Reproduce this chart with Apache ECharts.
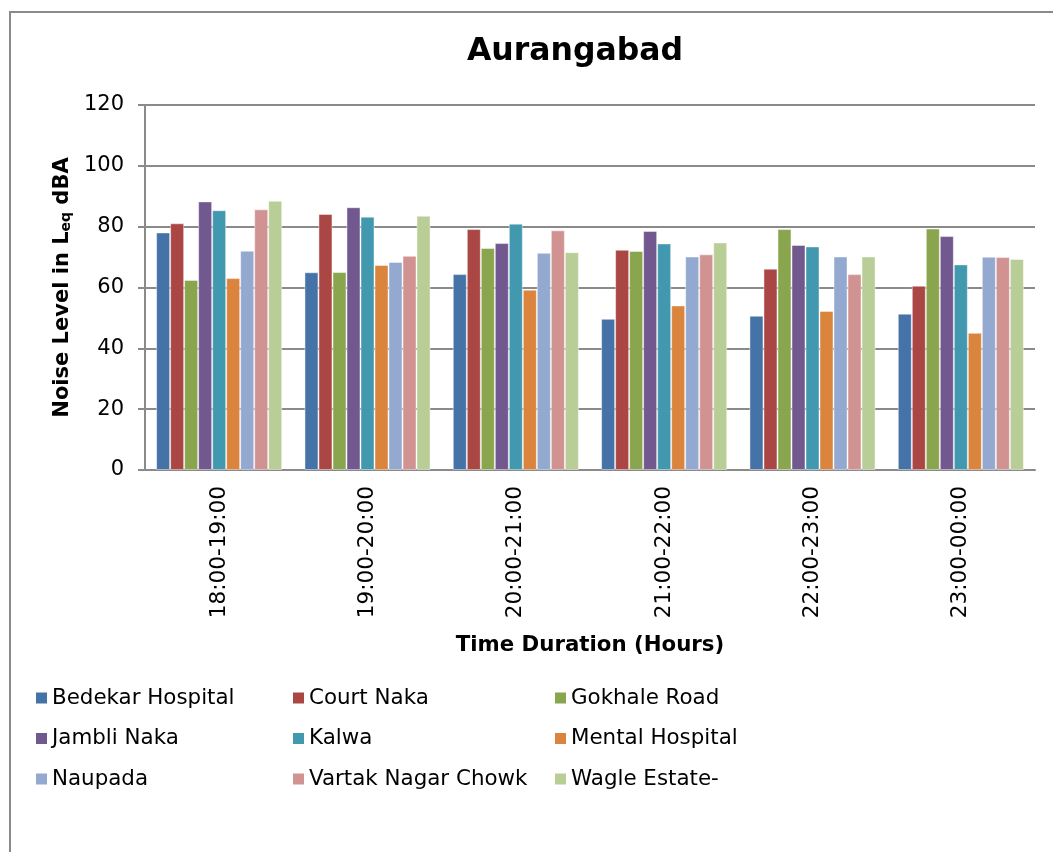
<!DOCTYPE html>
<html>
<head>
<meta charset="utf-8">
<title>Aurangabad</title>
<script src="https://cdn.jsdelivr.net/npm/echarts@6/dist/echarts.min.js"></script>
<style>
  html, body { margin: 0; padding: 0; background: #fff; }
  #chart { width: 1053px; height: 852px; }
</style>
</head>
<body>
<div id="chart"></div>
<script>
// Time slots on the category axis
const timeSlots = ['18:00-19:00', '19:00-20:00', '20:00-21:00', '21:00-22:00', '22:00-23:00', '23:00-00:00'];

// Noise level (Leq dBA) per location, one value per time slot
const bedekarHospital  = [78.1, 65.0, 64.4, 49.7, 50.7, 51.4];
const courtNaka        = [81.1, 84.2, 79.2, 72.4, 66.2, 60.6];
const gokhaleRoad      = [62.5, 65.1, 73.0, 72.0, 79.2, 79.4];
const jambliNaka       = [88.3, 86.4, 74.6, 78.6, 74.0, 76.9];
const kalwa            = [85.4, 83.3, 81.0, 74.5, 73.5, 67.6];
const mentalHospital   = [63.1, 67.4, 59.3, 54.1, 52.3, 45.1];
const naupada          = [72.1, 68.4, 71.4, 70.2, 70.2, 70.1];
const vartakNagarChowk = [85.7, 70.4, 78.8, 70.9, 64.4, 70.0];
const wagleEstate      = [88.5, 83.6, 71.6, 74.8, 70.2, 69.4];

const locationNames = ['Bedekar Hospital', 'Court Naka', 'Gokhale Road', 'Jambli Naka', 'Kalwa',
  'Mental Hospital', 'Naupada', 'Vartak Nagar Chowk', 'Wagle Estate-'];
const locationValues = [bedekarHospital, courtNaka, gokhaleRoad, jambliNaka, kalwa,
  mentalHospital, naupada, vartakNagarChowk, wagleEstate];
const palette = ['#4572A7', '#AA4643', '#89A54E', '#71588F', '#4198AF',
  '#DB843D', '#93A9CF', '#D19392', '#B9CD96'];

// Y axis ticks
const yMin = 0, yMax = 120, yStep = 20;

const FONT = 'DejaVu Sans, Verdana, sans-serif';
const GRID_COLOR = '#8a8a8a';

const chart = echarts.init(document.getElementById('chart'), null, { renderer: 'canvas' });

// One legend per column, three rows each
const legendColumn = (names, left) => ({
  orient: 'vertical',
  left: left,
  top: 687.5,
  padding: 0,
  itemWidth: 11,
  itemHeight: 11,
  itemGap: 19.5,
  icon: 'rect',
  data: names,
  itemStyle: { borderWidth: 0 },
  textStyle: { fontFamily: FONT, fontSize: 21.4, color: '#000', lineHeight: 21 },
  selectedMode: false
});

chart.setOption({
  animation: false,
  backgroundColor: '#fff',
  color: palette,
  grid: { left: 145, right: 18, top: 105, bottom: 382, containLabel: false },
  legend: [
    legendColumn([locationNames[0], locationNames[3], locationNames[6]], 36),
    legendColumn([locationNames[1], locationNames[4], locationNames[7]], 293),
    legendColumn([locationNames[2], locationNames[5], locationNames[8]], 555)
  ],
  xAxis: {
    type: 'category',
    data: timeSlots,
    axisLine: { show: true, lineStyle: { color: GRID_COLOR, width: 2 } },
    axisTick: { show: false },
    axisLabel: { rotate: 90, margin: 16, fontFamily: FONT, fontSize: 21.6, color: '#000' },
    splitLine: { show: false }
  },
  yAxis: {
    type: 'value',
    min: yMin,
    max: yMax,
    interval: yStep,
    name: '{b|Noise Level in L}{s|eq}{b| dBA}',
    nameLocation: 'middle',
    nameRotate: 90,
    nameGap: 66,
    nameTextStyle: {
      rich: {
        b: { fontFamily: FONT, fontSize: 21, fontWeight: 'bold', color: '#000', lineHeight: 26, verticalAlign: 'bottom' },
        s: { fontFamily: FONT, fontSize: 14, fontWeight: 'bold', color: '#000', lineHeight: 20, verticalAlign: 'bottom' }
      }
    },
    axisLine: { show: true, lineStyle: { color: GRID_COLOR, width: 2 } },
    axisTick: { show: true, length: 7, lineStyle: { color: GRID_COLOR, width: 2 } },
    axisLabel: { margin: 21, fontFamily: FONT, fontSize: 21, color: '#000' },
    splitLine: { show: true, lineStyle: { color: GRID_COLOR, width: 2 } }
  },
  series: locationNames.map((name, i) => ({
    name: name,
    type: 'bar',
    data: locationValues[i],
    barGap: '0%',
    barCategoryGap: '15%',
    itemStyle: { color: palette[i], borderColor: 'rgba(255,255,255,0.45)', borderWidth: 1 }
  })),
  graphic: [
    {
      type: 'rect',
      shape: { x: 10, y: 12, width: 1100, height: 900 },
      style: { fill: 'none', stroke: '#8a8a8a', lineWidth: 2 },
      silent: true
    },
    {
      type: 'text',
      x: 575, y: 52,
      style: {
        text: 'Aurangabad',
        fontFamily: FONT, fontSize: 31.5, fontWeight: 'bold', fill: '#000',
        textAlign: 'center', textVerticalAlign: 'middle'
      }
    },
    {
      type: 'text',
      x: 590, y: 645,
      style: {
        text: 'Time Duration (Hours)',
        fontFamily: FONT, fontSize: 21.3, fontWeight: 'bold', fill: '#000',
        textAlign: 'center', textVerticalAlign: 'middle'
      }
    }
  ]
});
</script>
</body>
</html>
